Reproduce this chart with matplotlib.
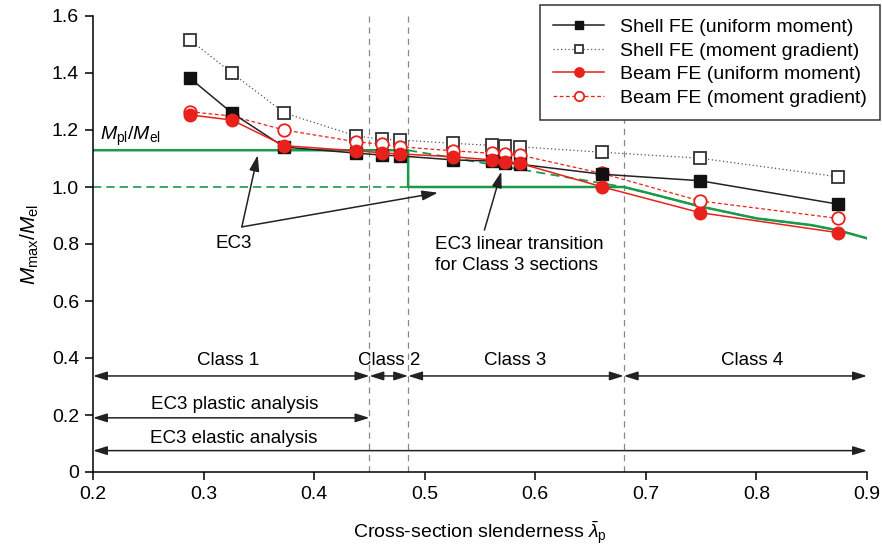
import numpy as np
import matplotlib
matplotlib.use('Agg')
from matplotlib import pyplot as plt

plt.rcParams['font.family'] = ['Liberation Sans', 'DejaVu Sans']
plt.rcParams['mathtext.fontset'] = 'custom'
plt.rcParams['mathtext.rm'] = 'Liberation Sans'
plt.rcParams['mathtext.it'] = 'Liberation Sans:italic'

# slenderness of the tested sections
lam = [0.2877, 0.3256, 0.373, 0.4376, 0.461, 0.478, 0.526, 0.5606, 0.573, 0.586, 0.66, 0.749, 0.8735]

shell_uniform = [1.382, 1.26, 1.14, 1.119, 1.112, 1.109, 1.095, 1.091, 1.085, 1.08, 1.045, 1.022, 0.94]
shell_gradient = [1.516, 1.40, 1.26, 1.179, 1.168, 1.165, 1.153, 1.146, 1.145, 1.141, 1.122, 1.101, 1.036]
beam_uniform = [1.253, 1.235, 1.145, 1.127, 1.12, 1.116, 1.106, 1.095, 1.089, 1.083, 1.001, 0.91, 0.84]
beam_gradient = [1.264, 1.249, 1.2, 1.159, 1.15, 1.141, 1.127, 1.118, 1.116, 1.112, 1.048, 0.951, 0.89]

# EC3 design curves
mpl_mel = 1.129
lam_limits = [0.2, 0.45, 0.485, 0.68, 0.9]   # class boundaries
ec3_step_x = [0.2, 0.485, 0.485, 0.68, 0.70, 0.75, 0.80, 0.85, 0.875, 0.9]
ec3_step_y = [mpl_mel, mpl_mel, 1.0, 1.0, 0.981, 0.931, 0.89, 0.866, 0.847, 0.82]
ec3_lin_x = [0.485, 0.68, 0.70, 0.75, 0.80, 0.85, 0.875, 0.9]
ec3_lin_y = [mpl_mel, 1.0, 0.981, 0.931, 0.89, 0.866, 0.847, 0.82]

class_labels = ['Class 1', 'Class 2', 'Class 3', 'Class 4']

red = '#e8211c'
green = '#1a9a4a'

fig = plt.figure(figsize=(8.82, 5.47), dpi=100)
ax = fig.add_axes([93/882, 1-472/547, (867-93)/882, (472-16)/547])

for xv in lam_limits[1:4]:
    ax.axvline(xv, color='#888888', lw=0.9, ls=(0, (5, 4)), zorder=1)

# EC3 lines
ax.plot([0.2, 0.485], [1.0, 1.0], color=green, lw=1.2, ls=(0, (5, 3)), zorder=2)
ax.plot(ec3_lin_x, ec3_lin_y, color=green, lw=1.3, ls=(0, (5, 3)), zorder=2)
ax.plot(ec3_step_x, ec3_step_y, color=green, lw=1.8, zorder=2)

# FE results
ax.plot(lam, shell_gradient, color='#555555', lw=0.9, ls=(0, (1, 2)), marker='s', ms=8,
        mfc='white', mec='#333333', mew=1.3, label='Shell FE (moment gradient)', zorder=3)
ax.plot(lam, beam_gradient, color=red, lw=0.9, ls=(0, (3, 2)), marker='o', ms=9,
        mfc='white', mec=red, mew=1.3, label='Beam FE (moment gradient)', zorder=3)
ax.plot(lam, shell_uniform, color='#222222', lw=1.1, marker='s', ms=8,
        mfc='#111111', mec='#111111', label='Shell FE (uniform moment)', zorder=4)
ax.plot(lam, beam_uniform, color=red, lw=1.1, marker='o', ms=9,
        mfc=red, mec=red, label='Beam FE (uniform moment)', zorder=4)

# class ranges
arr = dict(arrowstyle='<|-|>,head_length=0.7,head_width=0.22', color='#222222',
           lw=1.1, shrinkA=0, shrinkB=0, mutation_scale=12)
for i in range(4):
    ax.annotate('', xy=(lam_limits[i], 0.337), xytext=(lam_limits[i+1], 0.337), arrowprops=arr)
class_x = [0.322, 0.468, 0.582, 0.796]
for lbl, xv in zip(class_labels, class_x):
    ax.text(xv, 0.39, lbl, ha='center', va='center', fontsize=13.5)

ax.annotate('', xy=(0.2, 0.19), xytext=(0.45, 0.19), arrowprops=arr)
ax.text(0.328, 0.237, 'EC3 plastic analysis', ha='center', va='center', fontsize=13.5)
ax.annotate('', xy=(0.2, 0.075), xytext=(0.9, 0.075), arrowprops=arr)
ax.text(0.3275, 0.117, 'EC3 elastic analysis', ha='center', va='center', fontsize=13.5)

# EC3 callouts
pt = dict(arrowstyle='-|>,head_length=0.8,head_width=0.25', color='#222222', lw=1.1,
          shrinkA=0, shrinkB=0, mutation_scale=12)
ax.annotate('', xy=(0.349, 1.112), xytext=(0.3346, 0.86), arrowprops=pt)
ax.annotate('', xy=(0.512, 0.98), xytext=(0.3346, 0.86), arrowprops=pt)
ax.text(0.327, 0.80, 'EC3', ha='center', va='center', fontsize=13.5)
ax.annotate('', xy=(0.5693, 1.054), xytext=(0.554, 0.849), arrowprops=pt)
ax.text(0.509, 0.761, 'EC3 linear transition\nfor Class 3 sections', ha='left', va='center',
        fontsize=13.5, linespacing=1.25)
ax.text(0.206, 1.165, r'$M_{\rm pl}/M_{\rm el}$', ha='left', va='baseline', fontsize=14)

ax.set_xlim(0.2, 0.9)
ax.set_ylim(0, 1.6)
ax.set_xticks(np.arange(0.2, 0.91, 0.1))
ax.set_xticklabels(['0.2', '0.3', '0.4', '0.5', '0.6', '0.7', '0.8', '0.9'])
ax.set_yticks(np.arange(0, 1.61, 0.2))
ax.set_yticklabels(['0', '0.2', '0.4', '0.6', '0.8', '1.0', '1.2', '1.4', '1.6'])
ax.tick_params(labelsize=14, direction='out', length=6, width=1.1, pad=4)
for s in ['top', 'right']:
    ax.spines[s].set_visible(False)
for s in ['left', 'bottom']:
    ax.spines[s].set_linewidth(1.1)

ax.set_xlabel(r'Cross-section slenderness $\bar{\lambda}_{\rm p}$', fontsize=14, labelpad=12)
ax.set_ylabel(r'$M_{\rm max}/M_{\rm el}$', fontsize=15, labelpad=8)

h, l = ax.get_legend_handles_labels()
order = [2, 0, 3, 1]
leg = ax.legend([h[i] for i in order], [l[i] for i in order], loc='upper right',
                bbox_to_anchor=(880/882, 1-5/547), bbox_transform=fig.transFigure,
                borderaxespad=0, fontsize=14, frameon=True, fancybox=False, framealpha=1,
                edgecolor='#333333', handlelength=2.6, markerscale=0.75,
                borderpad=0.7, labelspacing=0.3, handletextpad=0.8)
leg.get_frame().set_linewidth(1.1)
leg.set_zorder(10)

plt.savefig('out.png', dpi=100)
